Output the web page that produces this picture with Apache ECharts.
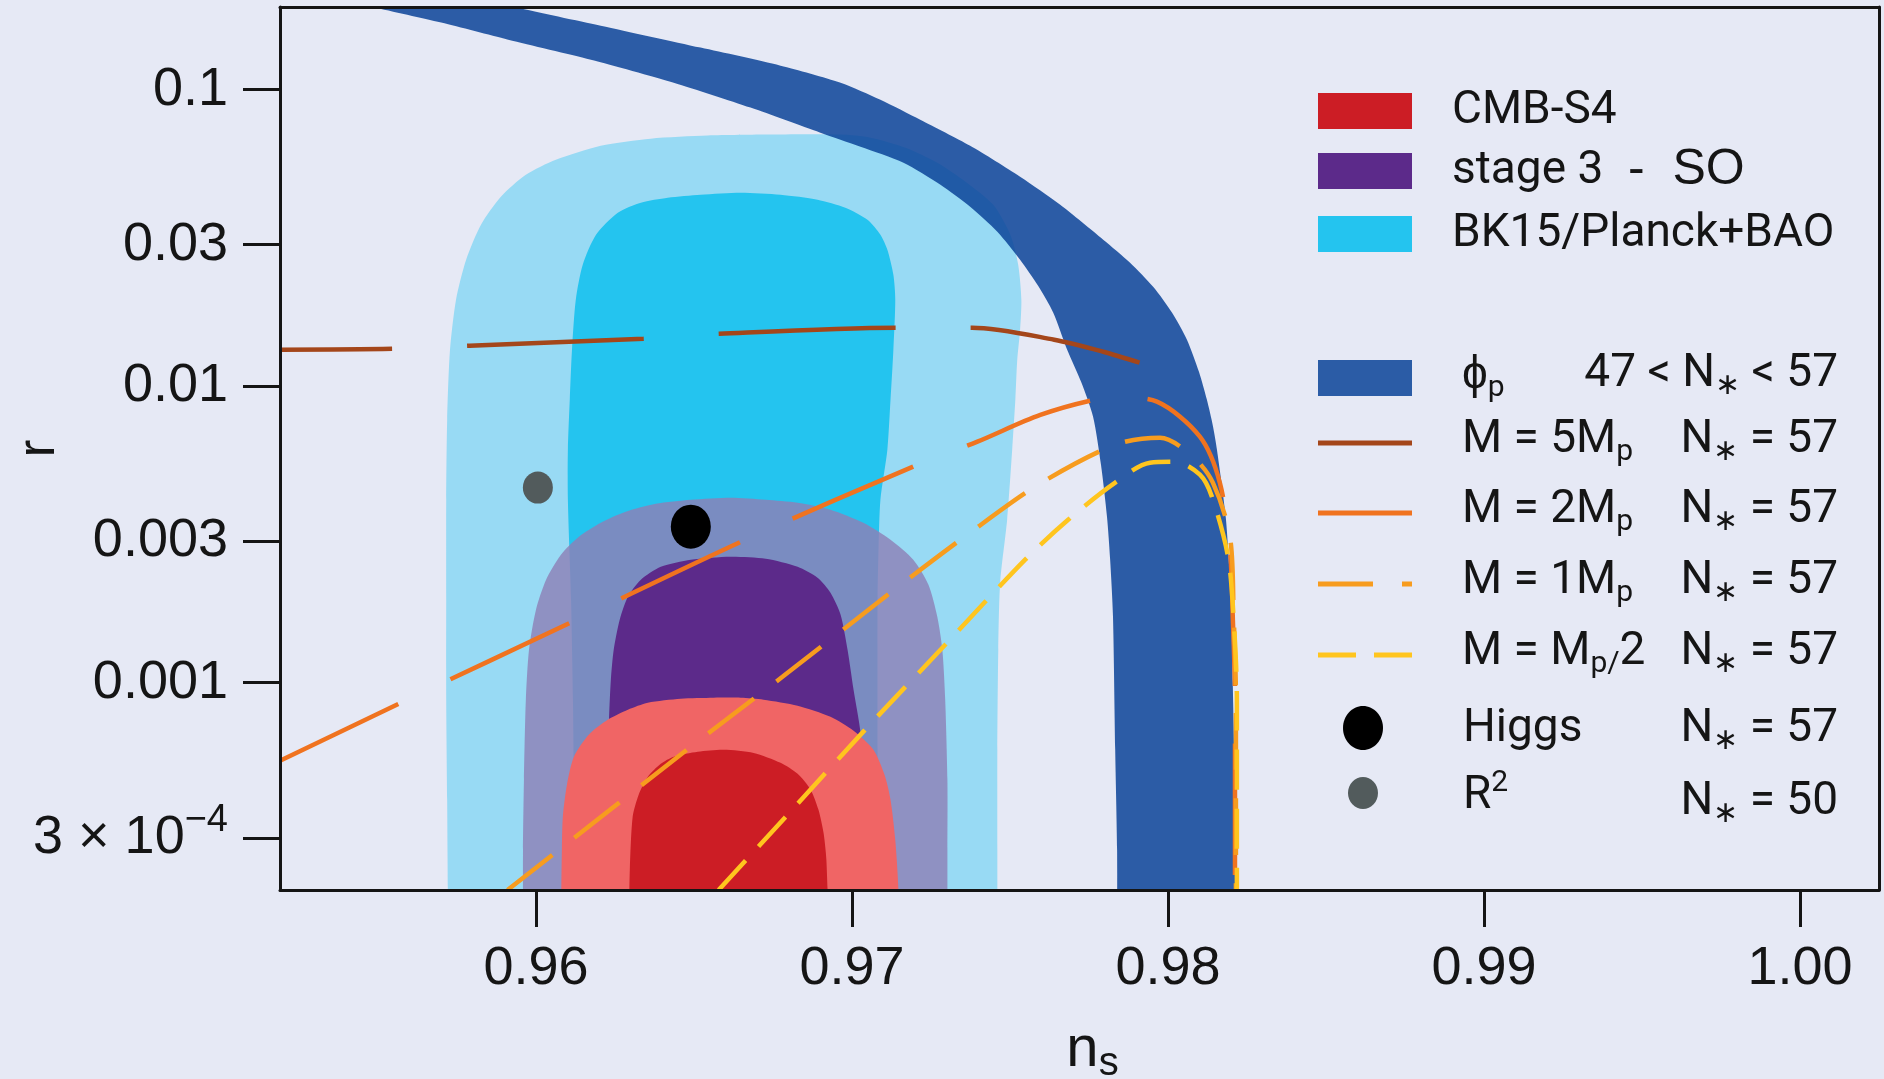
<!DOCTYPE html>
<html><head><meta charset="utf-8">
<script src="https://cdn.jsdelivr.net/npm/echarts@6/dist/echarts.min.js"></script>
<style>html,body{margin:0;padding:0;background:#E6E9F5;} #c{width:1884px;height:1079px;}</style>
</head><body><div id="c"></div>
<script>
// ---------- axis ticks ----------
const nsTicks = [0.96, 0.97, 0.98, 0.99, 1.00];
const rTicks = [0.0003, 0.001, 0.003, 0.01, 0.03, 0.1];
const rTickLabels = ['3 × 10{sup|−4}', '0.001', '0.003', '0.01', '0.03', '0.1'];

// ---------- contours [n_s, r] (closed below the axis) ----------
const bk15_95 = [[0.95722,1.0e-4],[0.95722,1.5e-4],[0.95719,4.03e-4],[0.95716,8.77e-4],[0.95716,1.905e-3],[0.95716,4.14e-3],[0.95719,7.71e-3],[0.95728,1.328e-2],[0.95747,1.957e-2],[0.95779,2.67e-2],[0.95826,3.505e-2],[0.95889,4.356e-2],[0.95968,5.166e-2],[0.96063,5.805e-2],[0.96205,6.474e-2],[0.96363,6.835e-2],[0.96543,7.0e-2],[0.96742,7.053e-2],[0.96964,7.053e-2],[0.97058,6.888e-2],[0.97169,6.374e-2],[0.9727,5.67e-2],[0.97359,4.894e-2],[0.97447,4.09e-2],[0.97501,3.243e-2],[0.97526,2.57e-2],[0.97536,1.957e-2],[0.97532,1.551e-2],[0.97523,1.228e-2],[0.97517,9.01e-3],[0.97507,6.11e-3],[0.97491,3.545e-3],[0.97469,2.175e-3],[0.97463,1.292e-3],[0.9746,5.94e-4],[0.9746,2.73e-4],[0.9746,1.5e-4],[0.9746,1.0e-4]];
const bk15_68 = [[0.9612,1e-4],[0.9612,1.5e-4],[0.9612,4.03e-4],[0.96117,8.77e-4],[0.96111,1.905e-3],[0.96101,4.14e-3],[0.96101,6.11e-3],[0.96107,9.01e-3],[0.96114,1.328e-2],[0.96126,1.957e-2],[0.96148,2.57e-2],[0.9619,3.243e-2],[0.96259,3.847e-2],[0.96332,4.158e-2],[0.96417,4.323e-2],[0.96521,4.424e-2],[0.96648,4.494e-2],[0.96774,4.424e-2],[0.96891,4.256e-2],[0.96979,4.0e-2],[0.97049,3.643e-2],[0.9709,3.243e-2],[0.97112,2.887e-2],[0.97131,2.377e-2],[0.97137,1.957e-2],[0.97131,1.328e-2],[0.97122,9.01e-3],[0.97112,6.11e-3],[0.9709,4.14e-3],[0.97084,2.81e-3],[0.97081,1.905e-3],[0.97081,5.94e-4],[0.97081,1.5e-4],[0.97081,1e-4]];
const stage3_95 = [[0.95959,1e-4],[0.95959,1.5e-4],[0.95959,2.73e-4],[0.95962,4.71e-4],[0.95968,8.77e-4],[0.95978,1.292e-3],[0.96,1.763e-3],[0.96032,2.226e-3],[0.96079,2.703e-3],[0.96136,3.107e-3],[0.96205,3.464e-3],[0.96284,3.772e-3],[0.96379,4.013e-3],[0.9649,4.14e-3],[0.96616,4.207e-3],[0.96727,4.14e-3],[0.96828,4.045e-3],[0.96932,3.834e-3],[0.97036,3.464e-3],[0.97122,3.036e-3],[0.97194,2.6e-3],[0.97242,2.141e-3],[0.9727,1.67e-3],[0.97286,1.292e-3],[0.97295,8.77e-4],[0.97302,4.71e-4],[0.97302,2.73e-4],[0.97302,1.5e-4],[0.97302,1e-4]];
const stage3_68 = [[0.96237,1e-4],[0.96237,1.5e-4],[0.96234,2.73e-4],[0.96231,4.71e-4],[0.96231,7.33e-4],[0.96237,1.023e-3],[0.96246,1.292e-3],[0.96265,1.632e-3],[0.96291,1.95e-3],[0.96332,2.226e-3],[0.96395,2.461e-3],[0.9649,2.6e-3],[0.96616,2.661e-3],[0.96727,2.619e-3],[0.96828,2.461e-3],[0.96891,2.26e-3],[0.96932,2.011e-3],[0.96964,1.696e-3],[0.96986,1.292e-3],[0.97005,9.47e-4],[0.97027,6.78e-4],[0.9704,4.03e-4],[0.97043,1.5e-4],[0.97043,1e-4]];
const cmbS4_95 = [[0.96079,1e-4],[0.96079,1.5e-4],[0.96082,2.73e-4],[0.96085,3.53e-4],[0.96098,4.53e-4],[0.9612,5.63e-4],[0.96167,6.68e-4],[0.96227,7.5e-4],[0.96291,8.11e-4],[0.96354,8.56e-4],[0.96458,8.83e-4],[0.96562,8.9e-4],[0.96648,8.9e-4],[0.9672,8.77e-4],[0.96828,8.37e-4],[0.96932,7.68e-4],[0.97005,6.89e-4],[0.97068,5.94e-4],[0.97103,4.89e-4],[0.97122,4.03e-4],[0.97137,2.955e-4],[0.97147,2e-4],[0.97147,1.5e-4],[0.97147,1e-4]];
const cmbS4_68 = [[0.96294,1e-4],[0.96294,1.5e-4],[0.96297,2.34e-4],[0.96306,3.53e-4],[0.96325,4.19e-4],[0.96354,4.82e-4],[0.96395,5.33e-4],[0.96436,5.63e-4],[0.96512,5.85e-4],[0.96594,5.94e-4],[0.96689,5.8e-4],[0.96774,5.37e-4],[0.96828,4.93e-4],[0.96869,4.36e-4],[0.96894,3.73e-4],[0.9691,3.12e-4],[0.96919,2.53e-4],[0.96926,1.5e-4],[0.96926,1e-4]];
// phi_p band (47 < N* < 57): outer edge, then inner edge back up
const phiBand = [[0.95731,0.2208],[0.9593,0.1905],[0.96205,0.1644],[0.96521,0.1386],[0.96774,0.1205],[0.96964,0.1056],[0.9709,0.0925],[0.97216,0.0792],[0.97374,0.0647],[0.97532,0.0509],[0.97659,0.0409],[0.97795,0.0312],[0.9788,0.0261],[0.97953,0.02165],[0.98013,0.0177],[0.9806,0.01435],[0.98098,0.01119],[0.98123,0.00901],[0.98142,0.00736],[0.98155,0.00611],[0.98183,0.0036],[0.98199,0.001905],[0.98205,0.001],[0.98212,0.000403],[0.98212,1.5e-4],[0.98212,1e-4],
  [0.97839,1e-4],[0.97839,1.5e-4],[0.97839,0.000273],[0.97833,0.000594],[0.97826,0.00167],[0.97817,0.0026],[0.97807,0.00363],[0.97788,0.00543],[0.97763,0.00789],[0.97725,0.01035],[0.97681,0.01328],[0.97637,0.0177],[0.97589,0.0218],[0.97532,0.0267],[0.9746,0.0332],[0.97374,0.0403],[0.9728,0.0478],[0.97163,0.0567],[0.97027,0.0642],[0.969,0.0716],[0.96679,0.087],[0.96436,0.1056],[0.96174,0.1262],[0.95912,0.1474],[0.957,0.1683],[0.95479,0.1905],[0.95321,0.2091]];

// ---------- model curves ----------
const m5 = [[0.9519,0.01328],[0.9555,0.01338],[0.9579,0.0137],[0.9634,0.01446],[0.9658,0.01503],[0.9715,0.01575],[0.9738,0.01575],[0.9764,0.01435],[0.97795,0.01307],[0.9791,0.0120]];
const m2 = [[0.9519,0.000546],[0.9558,0.000863],[0.96123,0.00162],[0.9667,0.00306],[0.97223,0.00552],[0.97397,0.0065],[0.97596,0.0080],[0.97785,0.00908],[0.97848,0.00916],[0.97965,0.00887],[0.98101,0.00676],[0.98164,0.00473],[0.98196,0.00281],[0.98205,0.00167],[0.98212,0.000877],[0.98212,0.0002]];
const m1 = [[0.9591,0.0002],[0.9649,0.000608],[0.9678,0.001047],[0.97147,0.00211],[0.97365,0.003155],[0.97589,0.00465],[0.97833,0.00635],[0.97975,0.0067],[0.98079,0.00578],[0.98142,0.00473],[0.98196,0.00311],[0.98208,0.00167],[0.98215,0.000877],[0.98215,0.0002]];
const mHalf = [[0.96578,0.0002],[0.96787,0.00035],[0.97036,0.000684],[0.97295,0.001343],[0.97548,0.0026],[0.97684,0.003545],[0.97833,0.00473],[0.97943,0.00552],[0.98022,0.00556],[0.98101,0.00503],[0.98139,0.00424],[0.9819,0.00266],[0.98208,0.00163],[0.98218,0.000877],[0.98218,0.0002]];
const higgs = [[0.9649, 0.00336]];
const rSquared = [[0.96006, 0.00455]];

// ---------- colours ----------
const C = {
  bg:'#E6E9F5', ink:'#151515',
  bk95:'#98DAF4', bk68:'#24C4EF',
  s395:'rgba(142,128,183,0.82)', s368:'#5C2A8A',
  cmb95:'#F06565', cmb68:'#CC1D25',
  band:'rgba(10,67,152,0.85)', bandKey:'#2B5CA6',
  m5:'#A4461A', m2:'#F0731F', m1:'#F79C1E', mHalf:'#FFC51E',
  higgs:'#000000', r2:'#525B5C'
};
const tickFont = "'Liberation Sans', Arial, sans-serif";
const keyFont = "Roboto, 'Liberation Sans', Arial, sans-serif";

function poly(name, pts, fill, extra) {
  return {
    type:'custom', name:name, clip:true, silent:true,
    data: pts, encode:{x:0, y:1},
    renderItem: function (params, api) {
      if (params.dataIndex !== 0) return null;
      const points = pts.map(function (p) { return api.coord(p); });
      return {type:'polygon', shape:{points:points, smooth:0.25}, style:Object.assign({fill:fill}, extra || {})};
    }
  };
}
function curve(name, pts, color, dash, offset) {
  return {type:'line', name:name, data:pts, showSymbol:false, smooth:0.3, silent:true, clip:true,
    lineStyle:{color:color, width:4.5, type:dash, dashOffset:offset||0, cap:'butt'}, z:3};
}

const chart = echarts.init(document.getElementById('c'), null, {renderer:'canvas'});

const axisLineStyle = {color:C.ink, width:3};
const xMin = 0.9519, xMax = 1.0025, yMin = 2e-4, yMax = 0.19;

// ---------- legend (graphic) ----------
const keyX = 1318, keyW = 94, keyFs = 46;
const richKey = {
  s:{fontSize:30, fontFamily:keyFont, fill:C.ink, padding:[25,0,0,0]},
  u:{fontSize:30, fontFamily:keyFont, fill:C.ink, padding:[0,0,25,0]}
};
function keyText(x, y, text, align, font, size) {
  return {type:'text', x:x, y:y, z:100, style:{text:text, fill:C.ink, fontSize:size||keyFs, fontFamily:font||keyFont,
    align:align||'left', verticalAlign:'middle', rich:richKey}};
}
const graphics = [];
[[C.cmb68,111,'CMB-S4'],[C.s368,171,'stage 3'],[C.bk68,234,'BK15/Planck+BAO'],[C.bandKey,378,null]].forEach(function (k) {
  graphics.push({type:'rect', z:100, shape:{x:keyX, y:k[1]-18, width:keyW, height:36}, style:{fill:k[0]}});
  if (k[2]) graphics.push(keyText(1452, k[1], k[2]));
});
graphics.push(keyText(1628, 170, '-  SO', 'left', tickFont, 50));
graphics.push(keyText(1462, 376, 'ϕ{s|p}'));
graphics.push(keyText(1838, 374, '47 < N{s|∗} < 57', 'right'));
[[C.m5,443,null,'M = 5M{s|p}'],[C.m2,513,null,'M = 2M{s|p}'],[C.m1,584,[55,29,11,200],'M = 1M{s|p}'],[C.mHalf,655,[38,18],'M = M{s|p/}2']].forEach(function (k) {
  graphics.push({type:'line', z:100, shape:{x1:keyX, y1:k[1], x2:keyX+keyW, y2:k[1]}, style:{stroke:k[0], lineWidth:5, lineDash:k[2]}});
  graphics.push(keyText(1462, k[1]-3, k[3]));
  graphics.push(keyText(1838, k[1]-3, 'N{s|∗} = 57', 'right'));
});
graphics.push({type:'ellipse', z:100, shape:{cx:1363, cy:728, rx:20, ry:22}, style:{fill:C.higgs}});
graphics.push(keyText(1463, 729, 'Higgs'));
graphics.push(keyText(1838, 729, 'N{s|∗} = 57', 'right'));
graphics.push({type:'ellipse', z:100, shape:{cx:1363, cy:793, rx:15, ry:16}, style:{fill:C.r2}});
graphics.push(keyText(1463, 796, 'R{u|2}'));
graphics.push(keyText(1838, 802, 'N{s|∗} = 50', 'right'));

const option = {
  backgroundColor: C.bg,
  animation: false,
  grid: {left:280, right:5, top:7, bottom:189, containLabel:false, outerBoundsMode:'none'},
  xAxis: [{
    type:'value', min:xMin, max:xMax, position:'bottom', z:10,
    axisLine:{show:true, onZero:false, lineStyle:axisLineStyle},
    axisTick:{show:true, length:37, lineStyle:axisLineStyle, customValues:nsTicks},
    axisLabel:{show:true, customValues:nsTicks, margin:52, fontSize:54, fontFamily:tickFont, color:C.ink,
      formatter:function (v) { return Number(v).toFixed(2); }},
    splitLine:{show:false},
    name:'n{sub|s}', nameLocation:'middle', nameGap:126, nameMoveOverlap:false,
    nameTextStyle:{fontSize:58, fontFamily:tickFont, color:C.ink, padding:[0,0,0,26],
      rich:{sub:{fontSize:40, fontFamily:tickFont, color:C.ink, padding:[28,0,0,0]}}}
  },{
    type:'value', min:xMin, max:xMax, position:'top', z:10,
    axisLine:{show:true, onZero:false, lineStyle:axisLineStyle},
    axisTick:{show:false}, axisLabel:{show:false}, splitLine:{show:false}
  }],
  yAxis: [{
    type:'log', logBase:10, min:yMin, max:yMax, position:'left', z:10,
    axisLine:{show:true, onZero:false, lineStyle:axisLineStyle},
    axisTick:{show:true, length:37, lineStyle:axisLineStyle, customValues:rTicks},
    minorTick:{show:false},
    axisLabel:{show:true, customValues:rTicks, margin:52, fontSize:54, fontFamily:tickFont, color:C.ink,
      formatter:function (v) {
        for (let i = 0; i < rTicks.length; i++) if (Math.abs(Math.log10(v) - Math.log10(rTicks[i])) < 1e-6) return rTickLabels[i];
        return String(v);
      },
      rich:{sup:{fontSize:38, fontFamily:tickFont, color:C.ink, padding:[0,0,34,0]}}},
    splitLine:{show:false},
    name:'r', nameLocation:'middle', nameGap:214, nameRotate:90, nameMoveOverlap:false,
    nameTextStyle:{fontSize:54, fontFamily:tickFont, color:C.ink}
  },{
    type:'log', logBase:10, min:yMin, max:yMax, position:'right', z:10,
    axisLine:{show:true, onZero:false, lineStyle:axisLineStyle},
    axisTick:{show:false}, axisLabel:{show:false}, splitLine:{show:false}, minorTick:{show:false}
  }],
  series: [
    poly('BK15/Planck+BAO 95%', bk15_95, C.bk95),
    poly('BK15/Planck+BAO 68%', bk15_68, C.bk68),
    poly('stage 3 95%', stage3_95, C.s395),
    poly('stage 3 68%', stage3_68, C.s368),
    poly('CMB-S4 95%', cmbS4_95, C.cmb95),
    poly('CMB-S4 68%', cmbS4_68, C.cmb68),
    poly('phi_p 47<N<57', phiBand, C.band),
    curve('M = 5Mp', m5, C.m5, [177,75], 65),
    curve('M = 2Mp', m2, C.m2, [131,58], 0),
    curve('M = 1Mp', m1, C.m1, [57,28], 0),
    curve('M = Mp/2', mHalf, C.mHalf, [40,19], 0),
    {type:'scatter', name:'Higgs', data:higgs, symbol:'circle', symbolSize:[40,44], itemStyle:{color:C.higgs, opacity:1}, z:5, silent:true},
    {type:'scatter', name:'R2', data:rSquared, symbol:'circle', symbolSize:[30,32], itemStyle:{color:C.r2, opacity:1}, z:5, silent:true}
  ],
  graphic: graphics
};
chart.setOption(option);
</script></body></html>
